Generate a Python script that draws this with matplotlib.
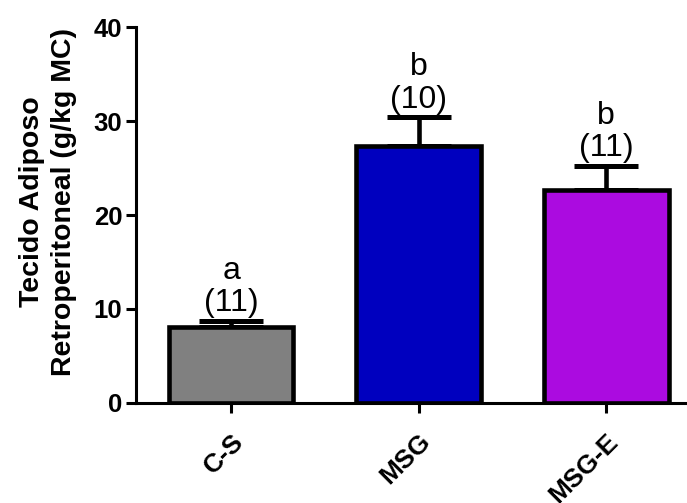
import matplotlib
matplotlib.use("Agg")
import matplotlib.pyplot as plt

plt.rcParams['font.family'] = ['Liberation Sans', 'DejaVu Sans']

# Group means and SEM (g/kg MC)
groups = ["C-S", "MSG", "MSG-E"]
means = [8.1, 27.3, 22.7]
sems = [0.6, 3.1, 2.5]
letters = ["a", "b", "b"]
n_animals = [11, 10, 11]
bar_colors = ["#808080", "#0000BF", "#AB0BE0"]

yticks = [0, 10, 20, 30, 40]

fig = plt.figure(figsize=(6.87, 5.03), dpi=100)
ax = fig.add_axes([0.198, 0.199, 0.802, 0.747])

x = list(range(len(groups)))
ax.bar(x, means, width=0.664, color=bar_colors, edgecolor="black",
       linewidth=3.3, zorder=2)
ax.errorbar(x, means, yerr=[[0] * len(sems), sems], fmt="none",
            ecolor="black", elinewidth=3.3, capsize=23, capthick=3.6,
            zorder=1)

for xi, m, s, let, n in zip(x, means, sems, letters, n_animals):
    ax.annotate(f"{let}\n({n})", xy=(xi, m + s), xytext=(0, 2),
                textcoords="offset points", ha="center", va="bottom",
                fontsize=23, linespacing=1.1)

ax.set_xlim(-0.507, 2.43)
ax.set_ylim(0, 40)
ax.set_yticks(yticks)
ax.set_xticks(x)
ax.set_xticklabels(groups, rotation=45, ha="right", va="top",
                   rotation_mode="anchor", fontweight="bold", fontsize=19)
for lbl in ax.get_yticklabels():
    lbl.set_fontweight("bold")
    lbl.set_fontsize(18.5)

ax.spines["top"].set_visible(False)
ax.spines["right"].set_visible(False)
for sp in ("left", "bottom"):
    ax.spines[sp].set_linewidth(2.2)
ax.tick_params(axis="both", width=2.2, length=7, color="black")
ax.tick_params(axis="y", pad=3)
ax.tick_params(axis="x", pad=12)

ax.set_ylabel("Tecido Adiposo\nRetroperitoneal (g/kg MC)", fontsize=20.5,
              fontweight="bold", linespacing=1.3)
ax.yaxis.set_label_coords(-0.108, 0.535)

fig.savefig("out.png", dpi=100)
